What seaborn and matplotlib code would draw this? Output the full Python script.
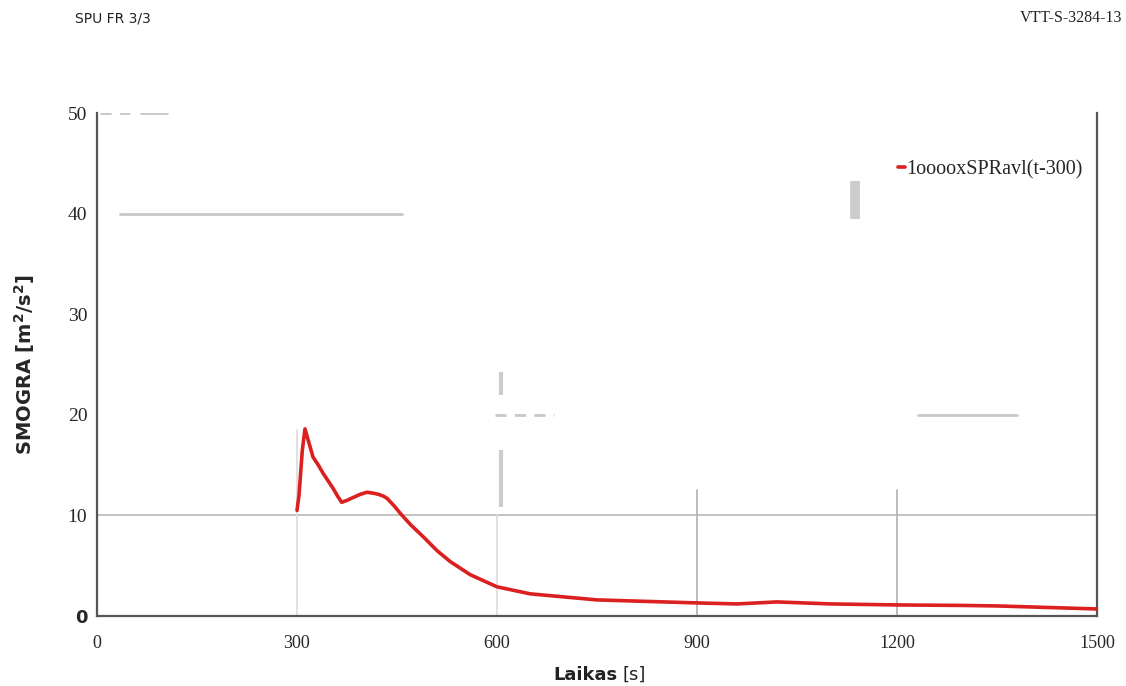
import matplotlib
matplotlib.use("Agg")
import matplotlib.pyplot as plt
import matplotlib.transforms as mtransforms
import seaborn as sns
import pandas as pd

# ---- data ----
time_s = [300, 303, 308, 312, 318, 324, 332, 339, 347, 354, 361, 367, 375,
          385, 395, 405, 415, 422, 430, 435, 445, 455, 470, 489, 510, 530,
          560, 600, 650, 700, 750, 800, 850, 900, 960, 1020, 1100, 1200,
          1300, 1350, 1400, 1450, 1500]
smogra = [10.5, 12.0, 16.5, 18.6, 17.2, 15.8, 15.0, 14.2, 13.4, 12.7, 11.9,
          11.3, 11.5, 11.8, 12.1, 12.3, 12.2, 12.1, 11.9, 11.7, 11.0, 10.2,
          9.1, 7.9, 6.5, 5.4, 4.1, 2.9, 2.2, 1.9, 1.6, 1.5, 1.4, 1.3, 1.2,
          1.4, 1.2, 1.1, 1.05, 1.0, 0.9, 0.8, 0.7]
x_ticks = [0, 300, 600, 900, 1200, 1500]
y_ticks = [0, 10, 20, 30, 40, 50]
series_label = "1ooooxSPRavl(t-300)"
x_label_bold = "Laikas"
x_label_unit = "[s]"
y_label = r"SMOGRA [m$^\mathbf{2}$/s$^\mathbf{2}$]"
header_left = "SPU FR 3/3"
header_right = "VTT-S-3284-13"

# scan-remnant grid fragments
h_fragments = [(35, 457, 40.0), (1232, 1380, 20.0), (66, 105, 50.0)]   # (x0, x1, y)
h_dashed = [(5, 50, 50.0), (597, 685, 20.0)]
v_light = [(300, 0, 18.5), (600, 0, 10.0)]                            # (x, y0, y1)
v_mid = [(900, 0, 12.5), (1200, 0, 12.5)]
v_blocks = [(606, 22.0, 24.3), (606, 10.8, 16.5), (1137, 39.5, 43.2)]

df = pd.DataFrame({"t": time_s, "v": smogra})

sns.set_theme(style="white")
plt.rcParams["font.family"] = ["Liberation Serif", "DejaVu Serif"]

fig = plt.figure(figsize=(11.26, 6.86), dpi=100)
ax = fig.add_axes([97 / 1126, 1 - 616 / 686, 1000 / 1126, 503 / 686])

# grid (partial, as in the scan)
ax.axhline(10, color="#b8b8b8", lw=1.2, zorder=1)
for x, y0, y1 in v_light:
    ax.plot([x, x], [y0, y1], color="#dcdcdc", lw=1.2, zorder=1)
for x, y0, y1 in v_mid:
    ax.plot([x, x], [y0, y1], color="#b0b0b0", lw=1.2, zorder=1)
for x, y0, y1 in v_blocks:
    ax.plot([x, x], [y0, y1], color="#cccccc", lw=3.0 if x < 1000 else 7.0,
            zorder=1, solid_capstyle="butt")
for x0, x1, y in h_fragments:
    ax.plot([x0, x1], [y, y], color="#c8c8c8", lw=2.0, zorder=1)
for x0, x1, y in h_dashed:
    ax.plot([x0, x1], [y, y], color="#c8c8c8", lw=2.0, ls=(0, (4, 3)), zorder=1)

sns.lineplot(data=df, x="t", y="v", ax=ax, color="#dc1f1f", lw=2.6,
             label=series_label, zorder=3)

ax.set_xlim(0, 1500)
ax.set_ylim(0, 50)
ax.set_xticks(x_ticks)
ax.set_yticks(y_ticks)
ax.set_xticklabels([str(v) for v in x_ticks], fontsize=13)
ylabels = ax.set_yticklabels([str(v) for v in y_ticks], fontsize=14)
ylabels[0].set_fontfamily("DejaVu Sans")
ylabels[0].set_fontweight("bold")
ylabels[0].set_fontsize(13)
ylabels[0].set_transform(ylabels[0].get_transform() +
                         mtransforms.ScaledTranslation(-6 / 100, 0, fig.dpi_scale_trans))
ax.tick_params(axis="y", length=0, pad=7)
ax.tick_params(axis="x", length=0, pad=14)

ax.spines["top"].set_visible(False)
for side in ["left", "right", "bottom"]:
    ax.spines[side].set_color("#555555")
    ax.spines[side].set_linewidth(1.6)

ax.set_xlabel("")
ax.set_ylabel(y_label, fontsize=14, fontweight="bold", family="DejaVu Sans",
              labelpad=22)
fig.text(0.5485, 1 - 675 / 686, x_label_bold, ha="right", va="center",
         fontsize=13, fontweight="bold", family="DejaVu Sans", color="#222222")
fig.text(0.5525, 1 - 675 / 686, x_label_unit, ha="left", va="center",
         fontsize=13, family="DejaVu Sans", color="#222222")

ax.legend(loc="center left", bbox_to_anchor=(801 / 1000, 0.887), frameon=False,
          fontsize=14.5, handlelength=0.35, handletextpad=0.05,
          borderaxespad=0, borderpad=0)

fig.text(75 / 1126, 1 - 18 / 686, header_left, ha="left", va="center",
         fontsize=10, family="DejaVu Sans", color="#222222")
fig.text(1122 / 1126, 1 - 18 / 686, header_right, ha="right", va="center",
         fontsize=11.5, color="#222222")

fig.savefig("out.png", dpi=100, facecolor="white")
